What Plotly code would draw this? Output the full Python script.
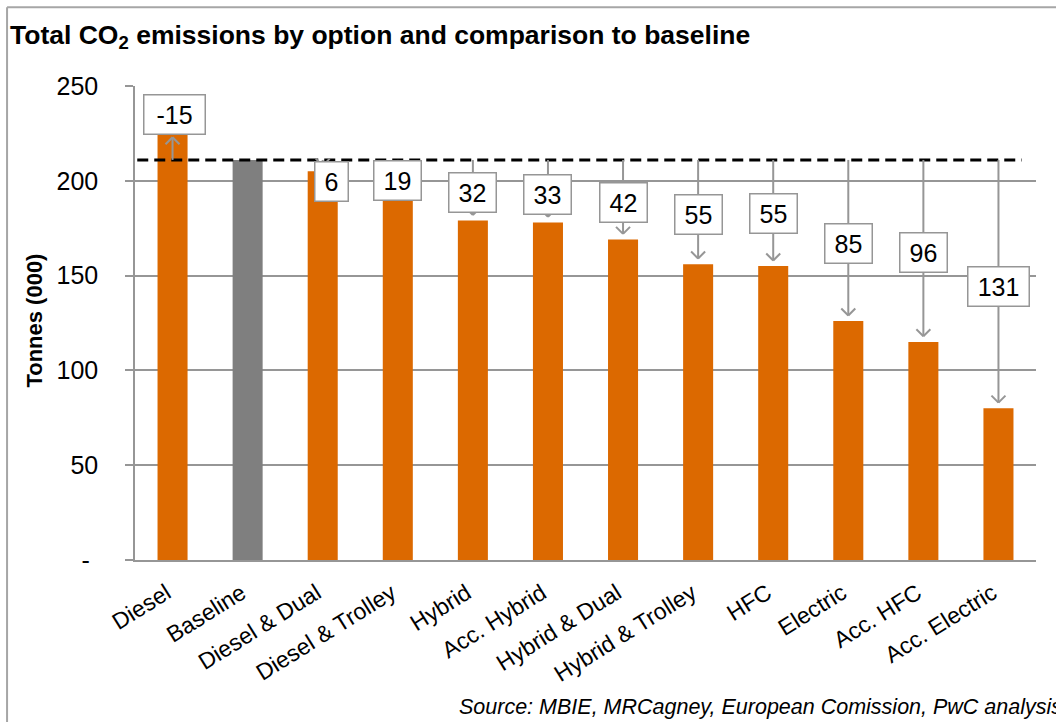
import plotly.graph_objects as go

# data (tonnes, thousands)
categories = ["Diesel", "Baseline", "Diesel & Dual", "Diesel & Trolley", "Hybrid",
              "Acc. Hybrid", "Hybrid & Dual", "Hybrid & Trolley", "HFC", "Electric",
              "Acc. HFC", "Acc. Electric"]
emissions = [226, 211, 205, 192, 179, 178, 169, 156, 155, 126, 115, 80]
baseline = 211
savings = [-15, None, 6, 19, 32, 33, 42, 55, 55, 85, 96, 131]
y_ticks = [0, 50, 100, 150, 200, 250]
y_tick_labels = ["-\u2004", "50", "100", "150", "200", "250"]

ORANGE = "#DC6900"
GREY_BAR = "#7F7F7F"
LINE = "#969696"
FRAME = "#A6A6A6"
FONT = "Liberation Sans, Arial, sans-serif"

x = list(range(len(categories)))
colors = [GREY_BAR if c == "Baseline" else ORANGE for c in categories]

fig = go.Figure(go.Bar(x=x, y=emissions, marker=dict(color=colors, line=dict(width=0)),
                       width=0.4, hoverinfo="y"))

shapes = [
    # outer frame (left and top edges are the visible ones)
    dict(type="line", xref="paper", yref="paper", x0=-0.142, x1=-0.142, y0=-0.5, y1=1.166,
         line=dict(color=FRAME, width=2)),
    dict(type="line", xref="paper", yref="paper", x0=-0.142, x1=1.2, y0=1.166, y1=1.166,
         line=dict(color=FRAME, width=2)),
    # baseline dashed line
    dict(type="line", xref="x", yref="y", x0=-0.47, x1=11.31, y0=baseline, y1=baseline,
         line=dict(color="black", width=3, dash="11px,6px")),
]

# label box centres (data units) and small horizontal nudges
box_y = [235, None, 199.5, 200, 193.7, 192.6, 188.4, 182.4, 182.6, 167, 162, 144]
box_shift = [2, 0, 9, 0, 0, 0, 0, 0, 0, 0, 0, 0]

annotations = []
for i, s in enumerate(savings):
    if s is None:
        continue
    up = emissions[i] > baseline
    tip = emissions[i] - 3 if up else emissions[i] + 3
    shapes.append(dict(type="line", xref="x", yref="y", x0=i, x1=i, y0=baseline, y1=tip,
                       line=dict(color=LINE, width=2)))
    d = -7 if up else 7
    for side in (-7, 7):
        shapes.append(dict(type="line", xref="x", yref="y",
                           xsizemode="pixel", xanchor=i, x0=side, x1=0,
                           ysizemode="pixel", yanchor=tip, y0=d, y1=0,
                           line=dict(color=LINE, width=2)))
    label = str(s)
    annotations.append(dict(x=i, y=box_y[i], xref="x", yref="y", text=label, showarrow=False,
                            xshift=box_shift[i], bgcolor="white", bordercolor=LINE,
                            borderwidth=1.5, borderpad=5, width=8 + 14 * len(label), height=28,
                            font=dict(family=FONT, size=25, color="black")))

annotations.append(dict(x=-0.111, y=0.505, xref="paper", yref="paper", text="<b>Tonnes (000)</b>",
                        textangle=-90, showarrow=False, xanchor="center", yanchor="middle",
                        font=dict(family=FONT, size=22, color="black")))
annotations.append(dict(x=0.357, y=-0.31, xref="paper", yref="paper",
                        text="<i>Source: MBIE, MRCagney, European Comission, PwC analysis</i>",
                        showarrow=False, xanchor="left", yanchor="middle",
                        font=dict(family=FONT, size=21.5, color="black")))

fig.update_layout(
    width=1056, height=722,
    margin=dict(l=135, r=20, t=86, b=162),
    paper_bgcolor="white", plot_bgcolor="white",
    showlegend=False,
    title=dict(text="<b>Total CO<sub>2</sub> emissions by option and comparison to baseline</b>",
               x=0.0095, xanchor="left", xref="container", y=0.952, yanchor="middle",
               font=dict(family=FONT, size=26.5, color="black")),
    xaxis=dict(range=[-0.5, 11.5], tickvals=x, ticktext=categories, tickangle=-32,
               showline=True, linecolor=LINE, linewidth=1.5, showgrid=False, ticks="",
               tickfont=dict(family=FONT, size=23, color="black"),
               ticklabelstandoff=9, ticklabelshift=-6),
    yaxis=dict(range=[0, 250], tickvals=y_ticks, ticktext=y_tick_labels,
               showgrid=True, gridcolor=LINE, gridwidth=1.5, zeroline=False,
               showline=True, linecolor=LINE, linewidth=1.5,
               ticks="outside", ticklen=8, tickcolor=LINE, tickwidth=1.5,
               tickfont=dict(family=FONT, size=25, color="black"), ticklabelstandoff=22),
    shapes=shapes,
    annotations=annotations,
    font=dict(family=FONT),
)

# the page body has a default 8px margin; drop it so the figure fills the window
fig.write_html("out.html", config={"displayModeBar": False},
               post_script="document.body.style.margin='0';")
